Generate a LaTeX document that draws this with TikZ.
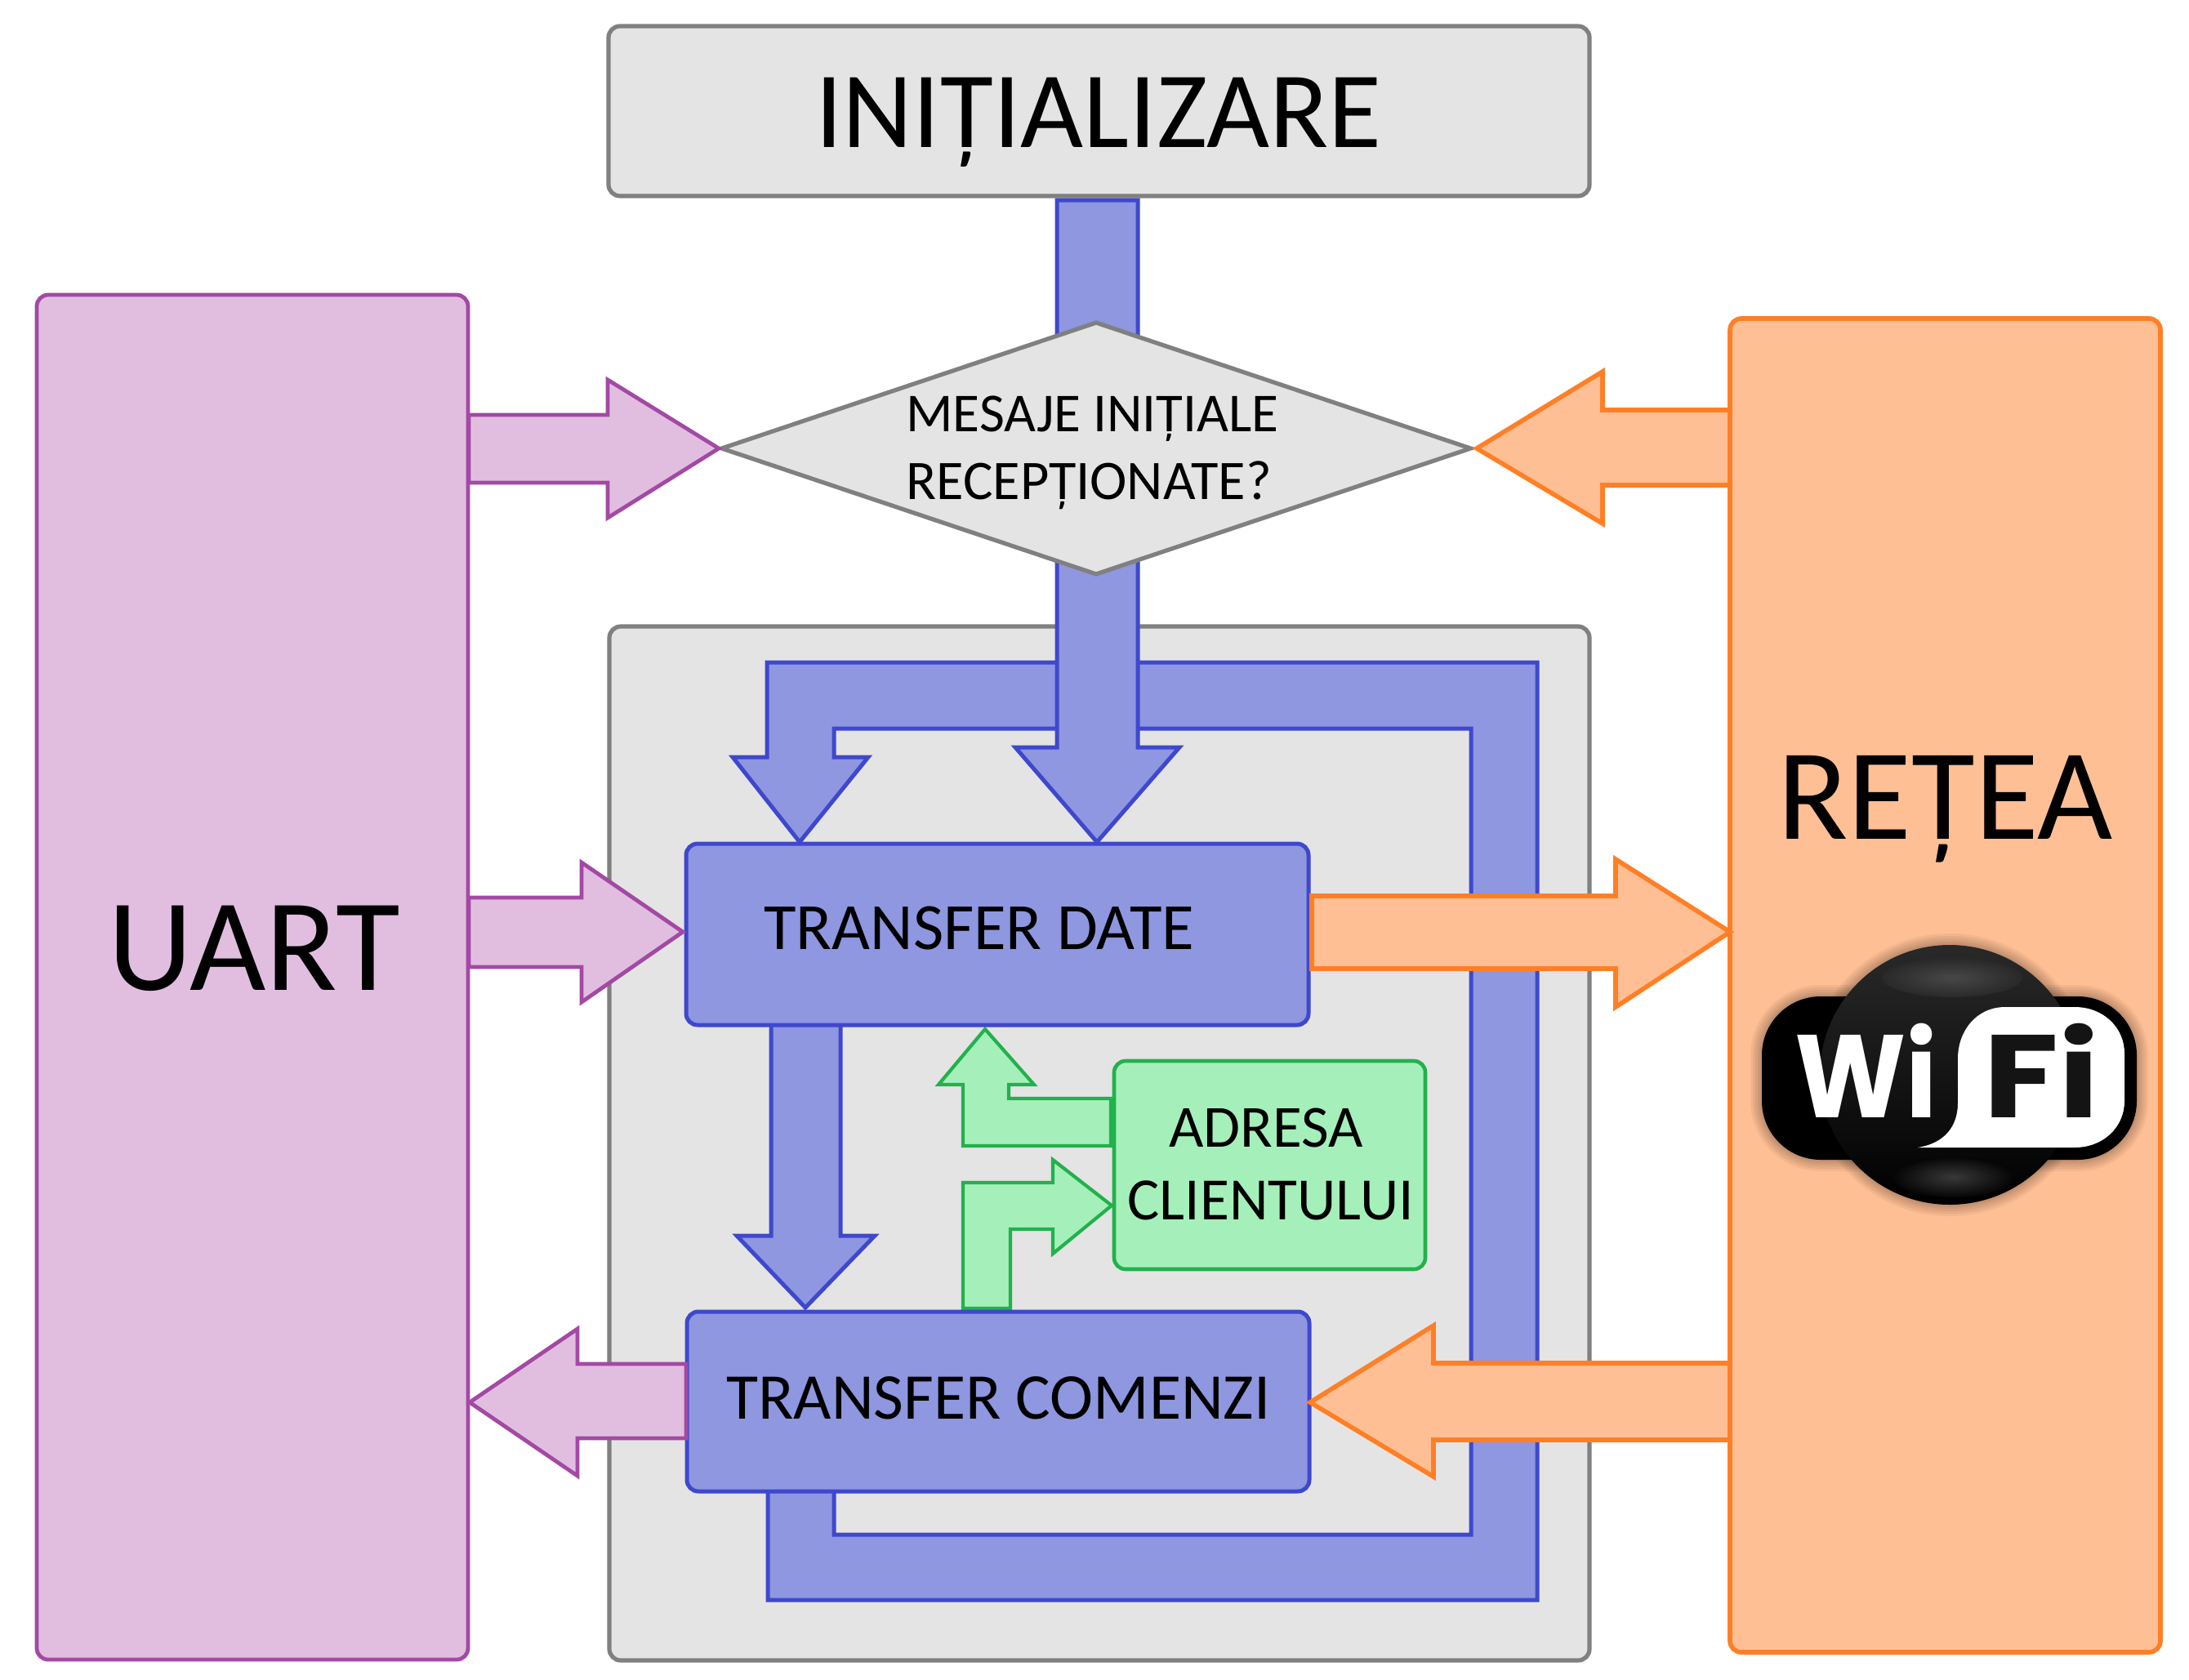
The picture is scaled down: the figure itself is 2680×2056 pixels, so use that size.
\documentclass[tikz,border=0pt]{standalone}
\usepackage{fontspec}
\setmainfont{Carlito}
\newfontfamily\wifont{Poppins}
\usetikzlibrary{shapes.geometric}
\definecolor{bluefill}{HTML}{8E97E0}
\definecolor{bluedraw}{HTML}{3F48CC}
\definecolor{purplefill}{HTML}{E1BEE0}
\definecolor{purpledraw}{HTML}{A349A4}
\definecolor{orangefill}{HTML}{FFBF94}
\definecolor{orangedraw}{HTML}{FF7F27}
\definecolor{greenfill}{HTML}{A5F0BA}
\definecolor{greendraw}{HTML}{22B14C}
\definecolor{grayfill}{HTML}{E4E4E4}
\definecolor{graydraw}{HTML}{808080}
\tikzset{
  blueshape/.style={fill=bluefill,draw=bluedraw,line width=2.5pt,line join=miter},
  purpleshape/.style={fill=purplefill,draw=purpledraw,line width=2.4pt},
  orangeshape/.style={fill=orangefill,draw=orangedraw,line width=2.8pt},
  greenshape/.style={fill=greenfill,draw=greendraw,line width=2.1pt},
  grayshape/.style={fill=grayfill,draw=graydraw,line width=2.6pt},
  rbox/.style={rounded corners=7pt},
  lbl/.style={anchor=base west,inner sep=0pt,text=black},
  halo/.style={draw=black,fill=none,opacity=.05},
}
\newcommand{\fs}[1]{\fontsize{#1}{#1}\selectfont}
\begin{document}
\begin{tikzpicture}[x=.5pt,y=-.5pt]
\path[use as bounding box,fill=white] (0,0) rectangle (2680,2056);

% large blocks
\draw[grayshape,rbox] (745,32) rectangle (1946,240);
\draw[grayshape,rbox] (746,767) rectangle (1946,2033);
\draw[purpleshape,rbox] (45,361) rectangle (573,2032);
\draw[orangeshape,rbox] (2118,390) rectangle (2645,2023);

% loop
\draw[blueshape] (979,1031) -- (897,927) -- (939,927) -- (939,811) -- (1882,811) -- (1882,1959)
  -- (940,1959) -- (940,1825) -- (1021,1825) -- (1021,1879) -- (1801,1879) -- (1801,892)
  -- (1021,892) -- (1021,927) -- (1063,927) -- cycle;
% central arrow
\draw[blueshape] (1343,1031) -- (1243,915) -- (1294,915) -- (1294,245) -- (1393,245) -- (1393,915)
  -- (1444,915) -- cycle;

% decision
\node[grayshape,diamond,aspect=2.96,inner sep=0pt,minimum width=459.5pt,minimum height=155pt] (decision) at (1342,549) {};
\node[lbl] (msg1) at (1109,528) {\fs{33.6}MESAJE INIȚIALE};
\node[lbl] (msg2) at (1109,611) {\fs{34.2}RECEPȚIONATE?};

% arrows into decision
\draw[purpleshape] (880,549) -- (744,465) -- (744,508) -- (574,508) -- (574,591) -- (744,591) -- (744,634) -- cycle;
\draw[orangeshape] (1808,549) -- (1962,455) -- (1962,502) -- (2118,502) -- (2118,594) -- (1962,594) -- (1962,641) -- cycle;

% green arrows
\draw[greenshape] (1206,1260) -- (1149,1328) -- (1179,1328) -- (1179,1403) -- (1360,1403) -- (1360,1345)
  -- (1235,1345) -- (1235,1328) -- (1266,1328) -- cycle;
\draw[greenshape] (1361,1476) -- (1289,1420) -- (1289,1448) -- (1179,1448) -- (1179,1602) -- (1237,1602)
  -- (1237,1505) -- (1289,1505) -- (1289,1535) -- cycle;

% TD to TC
\draw[blueshape] (986,1601) -- (902,1513) -- (944,1513) -- (944,1254) -- (1029,1254) -- (1029,1513) -- (1071,1513) -- cycle;

% process boxes
\draw[blueshape,rbox] (840,1033) rectangle (1602,1255);
\draw[blueshape,rbox] (841,1606) rectangle (1603,1826);
\draw[greenshape,line width=2.3pt,rbox] (1364,1299) rectangle (1745,1554);

% arrows at boxes
\draw[purpleshape] (836,1141) -- (712,1056) -- (712,1099) -- (574,1099) -- (574,1184) -- (712,1184) -- (712,1227) -- cycle;
\draw[orangeshape] (2118,1141) -- (1978,1052) -- (1978,1097) -- (1606,1097) -- (1606,1186) -- (1978,1186) -- (1978,1233) -- cycle;
\draw[purpleshape] (575,1717) -- (707,1627) -- (707,1670) -- (840,1670) -- (840,1761) -- (707,1761) -- (707,1807) -- cycle;
\draw[orangeshape] (1604,1717) -- (1755,1623) -- (1755,1669) -- (2118,1669) -- (2118,1763) -- (1755,1763) -- (1755,1808) -- cycle;

% texts
\node[lbl] (init) at (998,180) {\fs{66.5}INIȚIALIZARE};
\node[lbl] (uart) at (132,1212) {\fs{80.6}UART};
\node[lbl] (retea) at (2176,1027) {\fs{79.6}REȚEA};
\node[lbl] (date) at (935,1162) {\fs{40.5}TRANSFER DATE};
\node[lbl] (comenzi) at (889,1737) {\fs{40}TRANSFER COMENZI};
\node[lbl] (adresa) at (1431,1404) {\fs{36.6}ADRESA};
\node[lbl] (client) at (1380,1493) {\fs{36.8}CLIENTULUI};

% Wi-Fi logo
\foreach \w in {14,11,8,5,2.5} {
  \draw[halo,line width=\w pt] (2387,1316) circle[x radius=159,y radius=159];
  \draw[halo,line width=\w pt,rounded corners=36pt] (2157,1220) rectangle (2616,1420);
}
\fill[black,rounded corners=36pt] (2157,1220) rectangle (2616,1420);
\shade[top color=black!84,bottom color=black] (2387,1316) circle[x radius=159,y radius=159];
\shade[inner color=black!72,outer color=black!84] (2390,1197) ellipse[x radius=86,y radius=24];
\shade[inner color=black!78,outer color=black!98] (2391,1441) ellipse[x radius=74,y radius=25];
\fill[white] (2348,1405) .. controls (2380,1400) and (2397,1380) .. (2397,1350)
  -- (2397,1296) .. controls (2397,1262) and (2420,1233) .. (2455,1233)
  -- (2540,1233) .. controls (2575,1233) and (2601,1258) .. (2601,1290)
  -- (2601,1348) .. controls (2601,1380) and (2575,1405) .. (2540,1405) -- cycle;
\node[lbl,text=white,xscale=.9] (wi) at (2197,1368) {\wifont\bfseries\fs{72}Wi};
\node[lbl,text=black!92,xscale=1.17] (fi) at (2428,1368) {\wifont\bfseries\fs{72}Fi};
\end{tikzpicture}
\end{document}
